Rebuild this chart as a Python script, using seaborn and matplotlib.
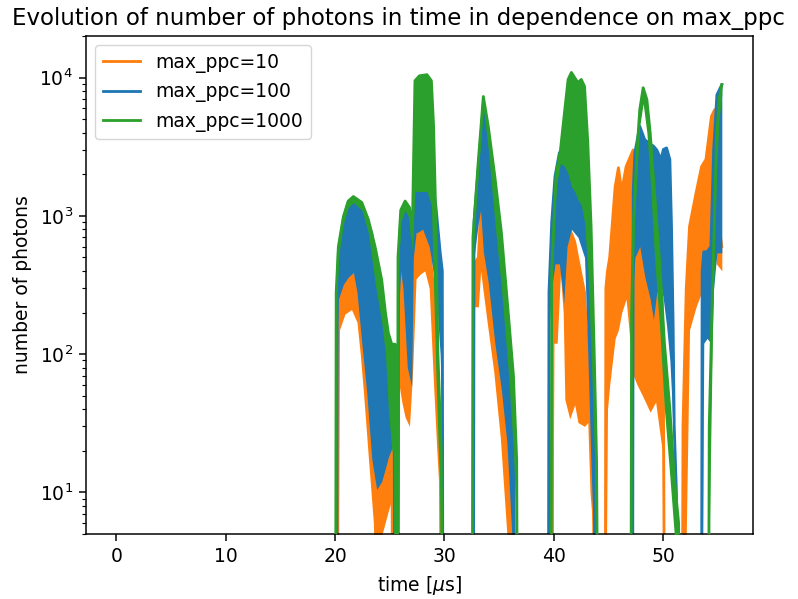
import matplotlib
matplotlib.use("Agg")
import matplotlib.pyplot as plt
import pandas as pd
import seaborn as sns

# ---- data: time [us], upper / lower envelope of the oscillating photon count ----
t_10 = [0.0,
        20.15, 20.2, 20.3, 20.4, 20.9, 21.5, 22.0, 22.3, 22.6, 23.05, 23.5, 23.7, 24.3, 24.9, 25.2, 25.25,
        25.75, 25.85, 26.1, 26.4, 26.8, 27.1, 27.4, 27.8, 28.2, 28.6, 29.0, 29.3, 29.6, 29.7,
        32.6, 32.65, 32.75, 33.1, 33.3, 33.5, 33.9, 34.5, 35.1, 35.7, 35.9, 36.3, 36.35,
        39.85, 39.9, 40.0, 40.3, 40.6, 40.85, 41.0, 41.45, 41.9, 42.2, 42.8, 43.1, 43.3, 43.6, 43.7,
        44.7, 44.75, 44.9, 45.1, 45.6, 45.9, 46.2, 46.6, 47.25, 47.6, 48.1, 48.8, 49.3, 49.9, 50.0, 50.1,
        51.75, 51.8, 52.1, 52.4, 53.0, 53.5, 53.9, 54.4, 54.7, 54.85, 55.35]
hi_10 = [1,
         1, 200, 280, 320, 370, 400, 330, 250, 120, 45, 20, 14, 14, 20, 20, 1,
         1, 500, 480, 300, 250, 400, 700, 800, 750, 600, 300, 60, 25, 1,
         1, 300, 450, 500, 1100, 700, 500, 170, 75, 23, 10, 8, 1,
         1, 300, 450, 600, 700, 800, 800, 800, 650, 485, 280, 100, 60, 15, 1,
         1, 300, 400, 500, 1630, 2230, 1500, 2270, 3000, 2700, 1000, 500, 350, 250, 100, 1,
         1, 30, 300, 840, 1470, 2270, 2560, 5240, 5870, 1200, 600]
lo_10 = [1,
         1, 1, 1, 150, 195, 210, 170, 100, 52, 17.5, 6, 1, 5, 7.5, 9, 1,
         1, 60, 45, 35, 30, 80, 350, 380, 400, 300, 60, 20, 8, 1,
         1, 1, 220, 220, 400, 300, 170, 75, 25, 5, 1, 1, 1,
         1, 1, 120, 120, 380, 200, 47, 34, 43, 32, 30, 32, 10, 5, 1,
         1, 1, 40, 60, 130, 150, 200, 250, 70, 60, 50, 38, 45, 20, 1, 1,
         1, 1, 5, 150, 220, 280, 450, 550, 600, 450, 400]

t_100 = [0.0,
         20.15, 20.2, 20.3, 20.76, 21.2, 21.67, 22.0, 22.44, 22.9, 23.35, 23.8, 24.26, 24.7, 24.87, 25.2, 25.4, 25.45,
         25.75, 25.8, 26.0, 26.2, 26.6, 27.0, 27.15, 27.4, 28.0, 28.6, 29.2, 29.6, 29.8, 29.85,
         32.65, 32.7, 33.1, 33.3, 33.55, 34.0, 34.6, 35.2, 35.7, 36.15, 36.35, 36.4,
         39.5, 39.55, 39.8, 40.1, 40.5, 40.9, 41.2, 41.6, 42.2, 42.8, 43.1, 43.4, 43.7, 43.75,
         47.2, 47.25, 47.4, 47.85, 48.3, 48.8, 49.1, 49.4, 49.8, 50.0, 50.3, 50.6, 50.75, 50.9, 51.0, 51.2, 51.25,
         53.5, 53.55, 53.7, 54.0, 54.35, 54.6, 54.9, 55.35]
hi_100 = [1,
          1, 250, 550, 950, 1250, 1350, 1300, 1220, 960, 750, 450, 300, 150, 110, 60, 30, 1,
          1, 400, 1000, 1150, 1150, 750, 700, 2500, 3000, 2500, 1200, 550, 400, 1,
          1, 900, 2300, 3500, 6500, 3800, 1500, 500, 180, 50, 12, 1,
          1, 280, 900, 1930, 2860, 3000, 3000, 3000, 2500, 1500, 600, 150, 20, 1,
          1, 1500, 2860, 4450, 3560, 3300, 3200, 3000, 2560, 3020, 3100, 2560, 840, 160, 30, 10, 1,
          1, 400, 550, 550, 600, 3000, 7500, 8900]
lo_100 = [1,
          1, 150, 250, 320, 360, 390, 280, 120, 52, 17.5, 10.5, 12, 16, 18, 21, 22, 1,
          1, 200, 400, 300, 80, 58, 500, 750, 800, 600, 300, 100, 30, 1,
          1, 500, 900, 1100, 550, 330, 120, 55, 23, 5, 3, 1,
          1, 150, 300, 450, 450, 235, 600, 800, 700, 500, 100, 15, 3, 1,
          1, 300, 500, 600, 365, 250, 178, 280, 310, 250, 160, 90, 52, 25, 17.5, 5, 1,
          1, 1, 120, 130, 120, 300, 540, 540]

t_1000 = [0.0,
          20.05, 20.1, 20.3, 20.76, 21.2, 21.67, 22.44, 23.04, 23.65, 24.26, 24.6, 24.87, 25.18, 25.48, 25.55,
          25.7, 25.75, 26.0, 26.4, 26.8, 27.05, 27.3, 27.7, 28.4, 28.8, 29.0, 29.2, 29.4, 29.7, 29.8,
          32.55, 32.6, 33.1, 33.55, 34.0, 34.6, 35.2, 35.8, 36.3, 36.6, 36.65,
          39.75, 39.8, 40.2, 40.6, 41.0, 41.3, 41.6, 41.9, 42.2, 42.5, 42.8, 43.1, 43.4, 43.7, 43.9, 44.0,
          47.05, 47.1, 47.3, 47.6, 47.85, 48.16, 48.5, 48.8, 49.2, 49.7, 50.1, 50.6, 51.0, 51.4, 51.45,
          54.15, 54.2, 54.5, 54.85, 55.1, 55.35]
hi_1000 = [1,
           1, 280, 600, 990, 1280, 1380, 1250, 940, 600, 345, 200, 142, 118, 118, 1,
           1, 500, 1100, 1280, 1150, 700, 9500, 10300, 10500, 9500, 4500, 1000, 100, 20, 1,
           1, 700, 2550, 7300, 4450, 1930, 760, 211, 70, 17, 1,
           1, 400, 2000, 3000, 5900, 9700, 10900, 10000, 9200, 9700, 8650, 3380, 840, 91, 17, 1,
           1, 200, 1000, 3000, 5870, 8450, 6930, 4000, 1470, 430, 121, 40, 13, 6, 1,
           1, 30, 300, 3380, 7000, 8900]
lo_1000 = [1,
           1, 200, 500, 880, 1150, 1250, 1100, 750, 330, 170, 100, 40, 20, 20, 1,
           1, 350, 900, 1100, 950, 550, 1500, 1500, 1500, 1200, 300, 80, 25, 6, 1,
           1, 500, 2200, 6000, 3000, 900, 300, 80, 20, 5, 1,
           1, 300, 1600, 2400, 2270, 2000, 1630, 1500, 1310, 1200, 900, 400, 100, 20, 5, 1,
           1, 100, 700, 2000, 4500, 6500, 4000, 1800, 500, 140, 40, 13, 5, 2, 1,
           1, 5, 150, 2000, 5000, 7500]

labels = ["max_ppc=10", "max_ppc=100", "max_ppc=1000"]
colors = ["#ff7f0e", "#1f77b4", "#2ca02c"]
series = [(t_10, hi_10, lo_10), (t_100, hi_100, lo_100), (t_1000, hi_1000, lo_1000)]

s = 1.35
plt.rcParams.update({
    "font.size": 10 * s,
    "axes.titlesize": 12.2 * s,
    "axes.labelsize": 10 * s,
    "legend.fontsize": 10 * s,
    "xtick.labelsize": 10 * s,
    "ytick.labelsize": 10 * s,
    "axes.linewidth": 0.8 * s,
    "xtick.major.size": 3.5 * s, "ytick.major.size": 3.5 * s,
    "xtick.major.width": 0.8 * s, "ytick.major.width": 0.8 * s,
    "xtick.minor.size": 2 * s, "ytick.minor.size": 2 * s,
    "xtick.minor.width": 0.6 * s, "ytick.minor.width": 0.6 * s,
    "xtick.major.pad": 3.5 * s, "ytick.major.pad": 3.5 * s,
    "axes.titlepad": 6 * s, "axes.labelpad": 4 * s,
})

fig = plt.figure(figsize=(7.98, 5.99), dpi=100)
ax = fig.add_axes([86 / 798, 1 - 534 / 599, 667 / 798, 498 / 599])

for i, ((t, hi, lo), lab, col) in enumerate(zip(series, labels, colors)):
    df = pd.DataFrame({"time": list(t) + list(t), "photons": list(hi) + list(lo)})
    sns.lineplot(data=df, x="time", y="photons", estimator="max", errorbar=("pi", 100),
                 color=col, label=lab, linewidth=1.5 * s, zorder=1.1 + i,
                 err_kws={"alpha": 1, "linewidth": 0, "zorder": 1.0 + i}, ax=ax)

ax.set_yscale("log")
ax.set_ylim(5, 2e4)
ax.set_xlim(-2.77, 58.2)
ax.set_xlabel(r"time [$\mu$s]")
ax.set_ylabel("number of photons")
ax.set_title("Evolution of number of photons in time in dependence on max_ppc",
             x=(398 - 86) / 667)
ax.legend(loc="upper left")

fig.savefig("out.png", dpi=100)
